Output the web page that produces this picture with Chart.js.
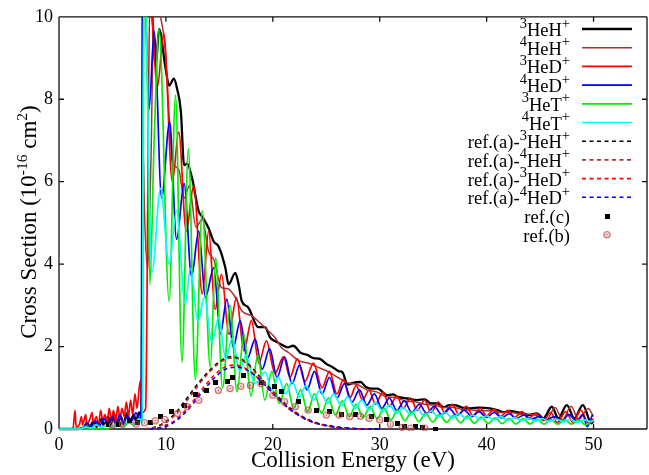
<!DOCTYPE html>
<html><head><meta charset="utf-8">
<script src="https://cdn.jsdelivr.net/npm/chart.js@4.4.0/dist/chart.umd.min.js"></script>
<style>
html,body{margin:0;padding:0;overflow:hidden;background:#fff;width:649px;height:475px}
#wrap{position:relative;width:652px;height:475px}
</style></head><body><div id="wrap"><canvas id="c" width="652" height="475"></canvas></div>
<script>
// ---------- data: [collision energy (eV), cross section (1e-16 cm^2)] ----------
const xTickValues = [0, 10, 20, 30, 40, 50];
const yTickValues = [0, 2, 4, 6, 8, 10];

const he3H = [[0,0],[1.8,0],[2.4,0.05],[2.6,0.15],[2.8,0.05],[3.3,0.2],[3.5,0.05],[4.0,0.25],[4.2,0.08],[4.6,0.3],[4.8,0.1],[5.2,0.35],[5.4,0.1],[5.8,0.3],[6.0,0.12],[6.4,0.4],[6.6,0.15],[7.0,0.35],[7.2,0.2],[7.5,0.4],[7.7,0.3],[7.85,11],[8.0,11],[8.6,10.6],[9.05,8.8],[9.36,9.7],[9.98,8.73],[10.3,8.33],[10.75,8.5],[11.05,8.25],[11.4,7.7],[11.7,6.4],[12.0,6.44],[12.45,6.08],[13.07,5.28],[13.4,5.15],[14.0,4.87],[14.47,4.55],[14.93,4.43],[15.56,3.91],[15.86,3.51],[16.49,3.79],[16.8,3.51],[17.1,3.1],[17.7,2.95],[18.65,2.47],[19.27,2.47],[19.74,2.22],[20.3,2.12],[20.8,2.05],[21.4,1.98],[21.9,2.02],[22.6,1.85],[23.2,1.8],[23.8,1.72],[24.4,1.7],[25.0,1.58],[25.6,1.5],[26.2,1.4],[26.5,1.38],[27.0,1.08],[27.5,1.12],[28.2,1.14],[28.7,1.02],[29.2,0.98],[29.8,0.98],[30.7,0.82],[31.2,0.84],[31.7,0.78],[32.6,0.74],[33.5,0.70],[34.2,0.72],[34.8,0.62],[35.4,0.62],[36.0,0.53],[36.5,0.58],[37.0,0.58],[37.7,0.52],[38.5,0.50],[39.3,0.52],[40.3,0.50],[41.0,0.46],[41.6,0.41],[42.2,0.44],[42.8,0.41],[43.4,0.38],[44.0,0.34],[44.7,0.38],[45.3,0.26],[46.1,0.54],[46.7,0.26],[47.5,0.58],[48.2,0.26],[49.0,0.58],[49.8,0.14],[50.0,0.2]];

const he4H = [[0,0],[2.0,0],[2.5,0.08],[3.0,0.02],[3.6,0.12],[4.0,0.03],[4.6,0.15],[5.0,0.05],[5.6,0.18],[6.0,0.06],[6.6,0.2],[7.0,0.1],[7.4,0.25],[7.7,0.2],[7.85,7.0],[8.0,5.2],[8.3,3.87],[8.6,6.5],[8.9,10.5],[9.3,10.2],[9.9,9.3],[10.3,7.6],[10.6,6.5],[11.2,6.3],[11.7,5.6],[12.2,5.9],[12.8,4.9],[13.4,5.08],[14.0,4.3],[14.5,4.1],[15.2,3.43],[15.8,3.4],[16.5,3.19],[17.1,2.87],[18.0,2.75],[18.9,2.55],[19.5,2.4],[20.2,2.22],[20.8,1.98],[21.5,1.85],[22.4,1.66],[23.3,1.6],[24.2,1.5],[25.1,1.4],[26.1,1.25],[27.0,1.12],[27.9,1.08],[28.8,0.95],[29.7,0.9],[30.6,0.78],[31.5,0.76],[32.4,0.68],[33.3,0.66],[34.2,0.6],[35.1,0.58],[36.0,0.52],[36.9,0.52],[37.8,0.47],[38.7,0.46],[39.6,0.44],[40.5,0.44],[41.4,0.4],[42.3,0.4],[43.2,0.36],[44.1,0.36],[44.8,0.32],[45.6,0.22],[46.4,0.52],[47.1,0.22],[47.9,0.55],[48.6,0.22],[49.5,0.5],[50.0,0.3]];

const he3D = [[0,0],[1.3,0],[1.5,0.45],[1.6,0.05],[1.9,0.1],[2.1,0.3],[2.2,0.1],[2.5,0.35],[2.6,0.1],[2.9,0.25],[3.1,0.4],[3.2,0.15],[3.5,0.3],[3.7,0.1],[3.9,0.45],[4.1,0.2],[4.3,0.35],[4.5,0.15],[4.7,0.5],[4.9,0.2],[5.1,0.45],[5.3,0.15],[5.5,0.55],[5.7,0.25],[5.9,0.5],[6.1,0.3],[6.3,0.65],[6.5,0.3],[6.7,0.7],[6.9,0.35],[7.1,0.85],[7.3,0.5],[7.5,1.0],[7.65,1.18],[7.75,0.4],[8.1,0.5],[8.5,10.5],[9.2,8.3],[9.8,9.6],[10.6,6.0],[11.2,7.2],[11.9,4.8],[12.6,5.9],[13.4,3.28],[14.0,4.8],[14.6,2.9],[15.2,3.75],[15.9,2.3],[16.6,3.19],[17.3,1.9],[18.0,2.63],[18.7,1.6],[19.4,2.14],[20.2,1.35],[21.0,1.75],[21.6,1.25],[22.3,1.7],[23.0,1.15],[23.8,1.6],[24.6,1.0],[25.3,1.4],[26.0,0.85],[26.6,1.2],[27.2,0.75],[27.8,1.05],[28.4,0.7],[29.0,0.95],[29.6,0.6],[30.3,0.9],[30.9,0.55],[31.6,0.8],[32.2,0.5],[32.9,0.75],[33.5,0.45],[34.2,0.7],[34.8,0.4],[35.5,0.65],[36.1,0.38],[36.8,0.6],[37.4,0.35],[38.1,0.55],[38.7,0.33],[39.4,0.5],[40.0,0.32],[40.7,0.48],[41.3,0.3],[42.0,0.45],[42.6,0.28],[43.3,0.42],[43.9,0.25],[44.6,0.38],[45.3,0.2],[46.0,0.4],[46.6,0.15],[47.4,0.42],[48.1,0.15],[48.8,0.46],[49.5,0.15],[50.0,0.25]];

const he4D = [[0,0],[2.2,0],[2.6,0.15],[3.0,0.05],[3.4,0.2],[3.8,0.08],[4.2,0.25],[4.6,0.1],[5.0,0.3],[5.3,0.1],[5.7,0.35],[6.0,0.15],[6.4,0.3],[6.8,0.2],[7.2,0.4],[7.5,0.25],[7.7,0.5],[7.85,10.5],[8.0,10.5],[8.43,7.77],[8.9,9.65],[9.6,5.6],[10.35,7.45],[11.0,4.6],[11.7,5.96],[12.4,3.7],[13.07,4.8],[13.7,3.19],[14.47,3.91],[15.1,2.31],[15.7,3.15],[16.3,1.98],[16.95,2.63],[17.6,1.7],[18.35,2.18],[19.0,1.45],[19.7,1.95],[20.4,1.25],[21.1,1.75],[21.8,1.1],[22.5,1.55],[23.2,0.95],[23.9,1.4],[24.6,0.85],[25.3,1.25],[26.0,0.75],[26.7,1.1],[27.4,0.65],[28.1,0.95],[28.8,0.58],[29.5,0.85],[30.2,0.5],[30.9,0.75],[31.6,0.45],[32.3,0.68],[33.0,0.4],[33.7,0.6],[34.4,0.38],[35.1,0.55],[35.8,0.35],[36.5,0.5],[37.2,0.33],[37.9,0.46],[38.6,0.3],[39.3,0.42],[40.0,0.28],[40.7,0.4],[41.4,0.27],[42.1,0.37],[42.8,0.26],[43.5,0.34],[44.2,0.24],[44.9,0.3],[45.6,0.22],[46.3,0.3],[47.0,0.18],[47.7,0.35],[48.4,0.2],[49.0,0.35],[49.4,0.06],[49.9,0.35]];

const he3T = [[0,0],[4.5,0],[5.0,0.05],[5.5,0.1],[6.0,0.05],[6.5,0.15],[7.0,0.1],[7.5,0.2],[7.8,0.2],[7.95,10.5],[8.15,10.5],[8.5,3.5],[8.9,7.0],[9.36,9.7],[10.3,3.1],[10.9,8.1],[11.5,1.62],[12.1,6.8],[12.75,1.2],[13.4,5.3],[14.15,1.5],[14.65,4.15],[15.3,1.0],[16.0,3.0],[16.65,0.9],[17.3,2.3],[17.95,0.8],[18.6,1.8],[19.25,0.7],[19.9,1.4],[20.6,0.62],[21.3,1.1],[21.95,0.5],[22.6,0.95],[23.25,0.42],[23.9,0.85],[24.55,0.38],[25.2,0.75],[25.85,0.34],[26.5,0.68],[27.15,0.3],[27.8,0.6],[28.45,0.28],[29.1,0.55],[29.75,0.25],[30.4,0.5],[31.05,0.22],[31.7,0.46],[32.35,0.2],[33.0,0.42],[33.65,0.18],[34.3,0.38],[34.95,0.17],[35.6,0.35],[36.25,0.16],[36.9,0.33],[37.55,0.15],[38.2,0.31],[38.85,0.14],[39.5,0.29],[40.15,0.13],[40.8,0.27],[41.45,0.13],[42.1,0.26],[42.75,0.12],[43.4,0.25],[44.05,0.12],[44.7,0.24],[45.35,0.12],[46.0,0.23],[46.65,0.12],[47.3,0.22],[47.95,0.12],[48.6,0.22],[49.25,0.1],[49.9,0.2]];

const he4T = [[0,0],[2.0,0],[2.5,0.05],[3.0,0.02],[3.5,0.1],[4.0,0.03],[4.5,0.12],[5.0,0.05],[5.5,0.15],[6.0,0.06],[6.5,0.2],[7.0,0.1],[7.5,0.25],[7.8,0.15],[7.9,10.5],[8.0,10.5],[8.7,3.8],[9.5,5.84],[10.3,4.0],[11.0,5.3],[11.8,3.03],[12.3,3.9],[13.0,2.6],[13.6,3.2],[14.3,2.1],[14.93,2.7],[15.6,1.7],[16.2,2.2],[16.9,1.4],[17.5,1.8],[18.3,1.1],[19.3,1.38],[19.9,0.94],[20.5,1.26],[21.2,0.85],[21.8,1.15],[22.5,0.78],[23.1,1.05],[23.8,0.7],[24.4,0.95],[25.1,0.62],[25.7,0.85],[26.4,0.56],[27.0,0.78],[27.7,0.5],[28.3,0.7],[29.0,0.46],[29.6,0.64],[30.3,0.42],[30.9,0.58],[31.6,0.38],[32.2,0.52],[32.9,0.34],[33.5,0.48],[34.2,0.31],[34.8,0.44],[35.5,0.29],[36.1,0.4],[36.8,0.27],[37.4,0.37],[38.1,0.25],[38.7,0.34],[39.4,0.24],[40.0,0.32],[40.7,0.22],[41.3,0.3],[42.0,0.21],[42.6,0.28],[43.3,0.2],[43.9,0.26],[44.6,0.19],[45.2,0.25],[45.9,0.18],[46.5,0.24],[47.2,0.17],[47.8,0.23],[48.5,0.16],[49.1,0.22],[49.8,0.18],[50.0,0.2]];

const refA3H = [[8.0,0],[9,0.05],[10,0.18],[11,0.42],[12,0.76],[13,1.1],[14,1.4],[15,1.63],[16,1.75],[17,1.7],[18,1.5],[19,1.2],[20,0.92],[21,0.65],[22,0.43],[23,0.27],[24,0.16],[25,0.09],[26,0.05],[27,0.02],[28,0.01],[29,0],[30,0]];
const refA4H = [[8.0,0],[9,0.04],[10,0.15],[11,0.38],[12,0.7],[13,1.05],[14,1.36],[15,1.6],[16,1.72],[17,1.68],[18,1.48],[19,1.18],[20,0.88],[21,0.6],[22,0.4],[23,0.25],[24,0.15],[25,0.08],[26,0.04],[27,0.02],[28,0.005],[29,0]];
const refA3D = [[8.5,0],[9.5,0.04],[10.5,0.15],[11.5,0.36],[12.5,0.66],[13.5,1.0],[14.5,1.3],[15.5,1.5],[16.3,1.55],[17,1.52],[18,1.38],[19,1.13],[20,0.86],[21,0.6],[22,0.4],[23,0.25],[24,0.14],[25,0.08],[26,0.04],[27,0.015],[28,0.005],[29,0]];
const refA4D = [[8.5,0],[9.5,0.03],[10.5,0.12],[11.5,0.32],[12.5,0.6],[13.5,0.93],[14.5,1.23],[15.5,1.44],[16.5,1.5],[17.5,1.44],[18.5,1.26],[19.5,1.0],[20.5,0.74],[21.5,0.5],[22.5,0.32],[23.5,0.19],[24.5,0.11],[25.5,0.06],[26.5,0.03],[27.5,0.01],[28.5,0],[30,0]];

const refC = [[4.6,0.1],[5.6,0.12],[6.55,0.2],[7.3,0.15],[8.6,0.15],[9.5,0.31],[10.5,0.42],[11.7,0.58],[12.8,0.83],[13.8,0.94],[14.6,1.12],[15.8,1.16],[16.2,1.26],[17.3,1.3],[18.96,1.14],[20.2,1.04],[20.8,0.9],[22.4,0.66],[24.1,0.46],[25.3,0.42],[26.4,0.34],[27.7,0.34],[29.2,0.3],[30.6,0.22],[31.7,0.14],[32.3,0.06],[33.3,0.07],[34.0,0.04],[35.2,0.0]];
const refB = [[5.0,0.1],[5.95,0.12],[7.2,0.12],[8.0,0.15],[9.0,0.2],[9.9,0.23],[11.1,0.38],[12.0,0.54],[13.07,0.7],[14.9,0.94],[16.0,0.98],[17.0,1.04],[17.9,1.06],[18.9,1.1],[20.0,0.82],[21.1,0.66],[22.1,0.54],[23.3,0.46],[25.0,0.34],[26.2,0.34],[27.2,0.3],[28.2,0.31],[29.0,0.26],[30.0,0.22],[31.0,0.12],[32.1,0.04],[32.9,0.02],[34.2,0.02]];

// ---------- presentation ----------
const FONT = '"Liberation Serif", "Times New Roman", serif';
const C = {black:'#000000', brown:'#b03030', red:'#ff0000', blue:'#0000ff', green:'#00ee00', cyan:'#00ffff', circ:'#c04a4a'};
const pts = a => a.map(p => ({x:p[0], y:p[1]}));

function squareImg(){const c=document.createElement('canvas');c.width=5;c.height=5;const g=c.getContext('2d');g.fillStyle='#000';g.fillRect(0,0,5,5);return c;}
function circleImg(){const c=document.createElement('canvas');c.width=9;c.height=9;const g=c.getContext('2d');g.strokeStyle=C.circ;g.lineWidth=1.1;g.beginPath();g.arc(4.5,4.5,3,0,Math.PI*2);g.stroke();g.fillStyle=C.circ;g.beginPath();g.arc(4.5,4.5,0.9,0,Math.PI*2);g.fill();return c;}
const SQ = squareImg(), CI = circleImg();

const clip = {left:0, top:0, right:0, bottom:2};
function solid(label, data, color, w){return {label, data:pts(data), borderColor:color, backgroundColor:color, borderWidth:w, pointRadius:0, cubicInterpolationMode:'monotone', clip, fill:false};}
function dashed(label, data, color){return {label, data:pts(data), borderColor:color, backgroundColor:color, borderWidth:1.6, borderDash:[4,3.5], pointRadius:0, cubicInterpolationMode:'monotone', clip, fill:false};}
function marks(label, data, img){return {label, data:pts(data), showLine:false, pointStyle:img, pointRadius:4, borderColor:'#000', backgroundColor:'#000', clip};}

const datasets = [
  solid('3HeH+', he3H, C.black, 2.3),
  solid('4HeH+', he4H, C.brown, 1.5),
  solid('3HeD+', he3D, C.red, 1.7),
  solid('4HeD+', he4D, C.blue, 1.7),
  solid('3HeT+', he3T, C.green, 1.7),
  solid('4HeT+', he4T, C.cyan, 1.7),
  dashed('ref.(a)-3HeH+', refA3H, C.black),
  dashed('ref.(a)-4HeH+', refA4H, C.brown),
  dashed('ref.(a)-3HeD+', refA3D, C.red),
  dashed('ref.(a)-4HeD+', refA4D, C.blue),
  marks('ref.(c)', refC, SQ),
  marks('ref.(b)', refB, CI)
];
datasets.forEach((d,i)=>{d.order = 100 - i;});

const legendRows = [
  ['', '3', 'HeH', 'line', C.black, 2.3],
  ['', '4', 'HeH', 'line', C.brown, 1.5],
  ['', '3', 'HeD', 'line', C.red, 1.7],
  ['', '4', 'HeD', 'line', C.blue, 1.7],
  ['', '3', 'HeT', 'line', C.green, 1.7],
  ['', '4', 'HeT', 'line', C.cyan, 1.7],
  ['ref.(a)-', '3', 'HeH', 'dash', C.black, 1.6],
  ['ref.(a)-', '4', 'HeH', 'dash', C.brown, 1.6],
  ['ref.(a)-', '3', 'HeD', 'dash', C.red, 1.6],
  ['ref.(a)-', '4', 'HeD', 'dash', C.blue, 1.6],
  ['ref.(c)', '', '', 'sq', '#000', 0],
  ['ref.(b)', '', '', 'ci', C.circ, 0]
];

const frame = {
  id:'frame',
  beforeDatasetsDraw(chart){
    const {ctx, chartArea:a, scales:{x, y}} = chart;
    ctx.save();
    ctx.strokeStyle = '#111'; ctx.lineWidth = 1.3;
    ctx.beginPath();
    ctx.moveTo(a.left, a.top); ctx.lineTo(a.right, a.top);
    ctx.moveTo(a.left, a.top); ctx.lineTo(a.left, a.bottom);
    ctx.moveTo(a.left, a.bottom); ctx.lineTo(a.right, a.bottom);
    ctx.moveTo(a.right, a.top); ctx.lineTo(a.right, a.bottom);
    const L = 5;
    xTickValues.forEach(v=>{const px = x.getPixelForValue(v); ctx.moveTo(px, a.bottom); ctx.lineTo(px, a.bottom - L); ctx.moveTo(px, a.top); ctx.lineTo(px, a.top + L);});
    yTickValues.forEach(v=>{const py = y.getPixelForValue(v); ctx.moveTo(a.left, py); ctx.lineTo(a.left + L, py); ctx.moveTo(a.right, py); ctx.lineTo(a.right - L, py);});
    ctx.stroke();
    ctx.restore();
  },
  afterDraw(chart){
    const {ctx} = chart;
    ctx.save();
    const parts = [['Cross Section (10', false], ['-16', true], [' cm', false], ['2', true], [')', false]];
    const big = '23px ' + FONT, small = '15.5px ' + FONT;
    let W = 0;
    parts.forEach(p=>{ctx.font = p[1] ? small : big; W += ctx.measureText(p[0]).width;});
    ctx.translate(28, 222); ctx.rotate(-Math.PI/2);
    ctx.fillStyle = '#000'; ctx.textBaseline = 'alphabetic'; ctx.textAlign = 'left';
    let cx = -W/2;
    parts.forEach(p=>{ctx.font = p[1] ? small : big; ctx.fillText(p[0], cx, p[1] ? -1 : 8); cx += ctx.measureText(p[0]).width;});
    ctx.restore();

    ctx.save();
    const main = '18.5px ' + FONT, sup = '14.5px ' + FONT;
    const right = 570, y0 = 29, dy = 18.7;
    legendRows.forEach((r,i)=>{
      const yy = y0 + i*dy;
      const base = yy + 7;
      const segs = [];
      if (r[0]) segs.push([r[0], false]);
      if (r[1]) { segs.push([r[1], true]); segs.push([r[2], false]); segs.push(['+', true]); }
      let w = 0;
      segs.forEach(s=>{ctx.font = s[1] ? sup : main; w += ctx.measureText(s[0]).width;});
      let xx = right - w;
      ctx.fillStyle = '#000'; ctx.textAlign = 'left'; ctx.textBaseline = 'alphabetic';
      segs.forEach(s=>{ctx.font = s[1] ? sup : main; ctx.fillText(s[0], xx, s[1] ? base - 8.5 : base); xx += ctx.measureText(s[0]).width;});
      const x1 = 582, x2 = 632;
      if (r[3] === 'line' || r[3] === 'dash') {
        ctx.strokeStyle = r[4]; ctx.lineWidth = r[5];
        ctx.setLineDash(r[3] === 'dash' ? [4,3.5] : []);
        ctx.beginPath(); ctx.moveTo(x1, yy); ctx.lineTo(x2, yy); ctx.stroke();
        ctx.setLineDash([]);
      } else if (r[3] === 'sq') {
        ctx.drawImage(SQ, 607 - SQ.width/2, yy - SQ.height/2);
      } else {
        ctx.drawImage(CI, 607 - CI.width/2, yy - CI.height/2);
      }
    });
    ctx.restore();
  }
};

new Chart(document.getElementById('c'), {
  type:'line',
  data:{datasets},
  options:{
    responsive:false, animation:false, devicePixelRatio:1,
    layout:{padding:{top:14, left:0, right:0, bottom:0}},
    plugins:{legend:{display:false}, tooltip:{enabled:false}},
    scales:{
      x:{type:'linear', min:0, max:55,
        afterBuildTicks: s => { s.ticks = xTickValues.map(v=>({value:v})); },
        ticks:{font:{family:FONT, size:18}, color:'#000', padding:5, maxRotation:0, callback:v=>String(v)},
        grid:{display:false, drawTicks:false}, border:{display:false},
        title:{display:true, text:'Collision Energy (eV)', font:{family:FONT, size:23}, color:'#000', padding:{top:0, bottom:0}},
        afterFit: s => { s.height = 46; }
      },
      y:{type:'linear', min:0, max:10,
        afterBuildTicks: s => { s.ticks = yTickValues.map(v=>({value:v})); },
        ticks:{font:{family:FONT, size:18}, color:'#000', padding:6, callback:v=>String(v)},
        grid:{display:false, drawTicks:false}, border:{display:false},
        afterFit: s => { s.width = 59; }
      }
    }
  },
  plugins:[frame]
});
</script>
</body></html>
